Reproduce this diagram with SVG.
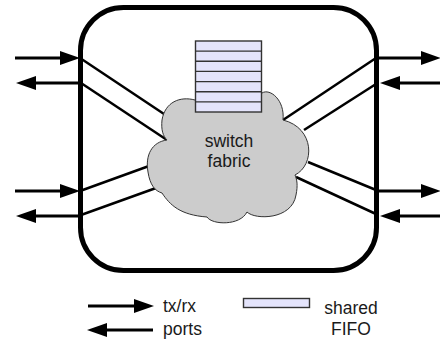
<svg xmlns="http://www.w3.org/2000/svg" width="440" height="343" viewBox="0 0 440 343">
  <style>
    .port { fill: none; stroke: #000; stroke-width: 3; marker-end: url(#head); }
    .link { fill: none; stroke: #000; stroke-width: 2.5; }
    .label { font-family: "Liberation Sans", Arial, sans-serif; font-size: 17.5px; fill: #1a1a1a; }
    .fifo { fill: #e4e4fb; stroke: #333; stroke-width: 1.4; }
    .row { stroke: #333; stroke-width: 1.4; }
  </style>
  <defs>
    <marker id="head" viewBox="0 0 20 14" refX="12" refY="7" markerWidth="20" markerHeight="14" markerUnits="userSpaceOnUse" orient="auto">
      <path d="M0,0 L20,7 L0,14 z" fill="#000"/>
    </marker>
  </defs>
  <rect width="440" height="343" fill="#fff"/>

  <!-- links from the port edge to the fabric -->
  <g id="connectors">
    <line class="link" x1="80" y1="58" x2="164" y2="114"/>
    <line class="link" x1="81" y1="83" x2="167" y2="140"/>
    <line class="link" x1="80" y1="191" x2="149" y2="166"/>
    <line class="link" x1="81" y1="215" x2="156" y2="188"/>
    <line class="link" x1="376" y1="58" x2="283" y2="120"/>
    <line class="link" x1="376" y1="84" x2="304" y2="130"/>
    <line class="link" x1="376" y1="190" x2="308" y2="162"/>
    <line class="link" x1="376" y1="214" x2="296" y2="177"/>

    <!-- tx/rx port arrows -->
    <line class="port" x1="15" y1="58" x2="72" y2="58"/>
    <line class="port" x1="80" y1="83" x2="24" y2="83"/>
    <line class="port" x1="15" y1="191" x2="72" y2="191"/>
    <line class="port" x1="80" y1="216" x2="24" y2="216"/>
    <line class="port" x1="376" y1="58" x2="433" y2="58"/>
    <line class="port" x1="440" y1="83" x2="388" y2="83"/>
    <line class="port" x1="376" y1="191" x2="433" y2="191"/>
    <line class="port" x1="440" y1="216" x2="388" y2="216"/>
  </g>

  <!-- switch enclosure -->
  <g id="switch">
    <rect x="80.5" y="7.5" width="296" height="263" rx="43" ry="43" fill="none" stroke="#000" stroke-width="5"/>
  </g>

  <!-- switch fabric cloud -->
  <g id="fabric">
    <path d="M195,100 C180,96 165,102 162,120 C161,130 163,136 167,140 C152,142 145,155 148,172 C150,185 155,191 162,193 C170,205 180,215 207,217 C212,225 240,226 247,212 C255,220 292,220 296,195 C298,185 297,180 295,175 C315,165 315,128 283,120 C285,100 270,88 262,93 L230,90 Z" fill="#cccccc" stroke="#333" stroke-width="1"/>
    <text class="label" x="229" y="147" text-anchor="middle">switch</text>
    <text class="label" x="229" y="167" text-anchor="middle">fabric</text>
  </g>

  <!-- shared FIFO stack -->
  <g id="fifo">
    <rect class="fifo" x="195.5" y="41" width="66" height="71"/>
    <line class="row" x1="195.5" y1="51.1" x2="261.5" y2="51.1"/>
    <line class="row" x1="195.5" y1="61.3" x2="261.5" y2="61.3"/>
    <line class="row" x1="195.5" y1="71.4" x2="261.5" y2="71.4"/>
    <line class="row" x1="195.5" y1="81.6" x2="261.5" y2="81.6"/>
    <line class="row" x1="195.5" y1="91.7" x2="261.5" y2="91.7"/>
    <line class="row" x1="195.5" y1="101.9" x2="261.5" y2="101.9"/>
  </g>

  <!-- legend -->
  <g id="legend-ports">
    <line class="port" x1="88" y1="306" x2="146" y2="306"/>
    <line class="port" x1="153" y1="330" x2="95" y2="330"/>
    <text class="label" x="163" y="312">tx/rx</text>
    <text class="label" x="163" y="335">ports</text>
  </g>
  <g id="legend-fifo">
    <rect class="fifo" x="243.5" y="298.5" width="66" height="9"/>
    <text class="label" x="351" y="314" text-anchor="middle">shared</text>
    <text class="label" x="351" y="335" text-anchor="middle">FIFO</text>
  </g>
</svg>
